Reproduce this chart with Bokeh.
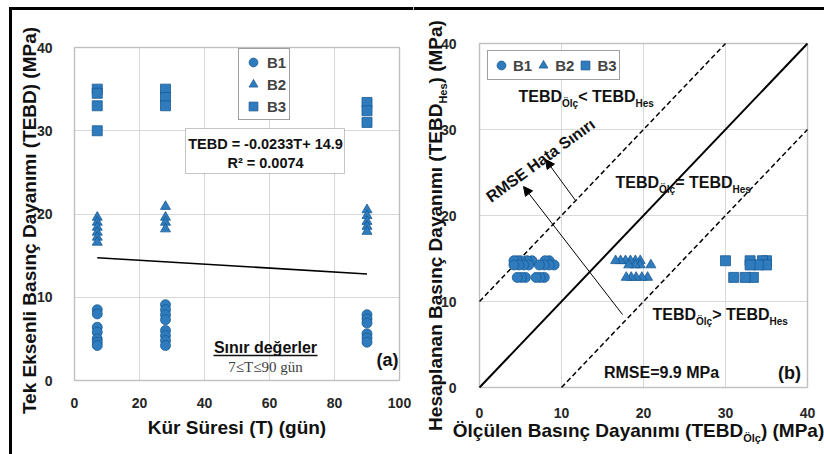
import math
from bokeh.plotting import figure
from bokeh.models import (Range1d, Label, Arrow, NormalHead, BoxAnnotation,
                          Legend, LegendItem, FixedTicker, ColumnDataSource)
from bokeh.layouts import row
from bokeh.embed import file_html
from bokeh.resources import INLINE

# ---------------- data ----------------
cure_days = [7, 28, 90]
# panel (a): measured UCS (MPa) per curing time
b1_t7 = [8.5, 8.0, 6.4, 5.8, 5.0, 4.6, 4.2]
b1_t28 = [9.1, 8.5, 7.9, 7.3, 6.0, 5.4, 4.8, 4.2]
b1_t90 = [7.9, 7.4, 6.9, 5.6, 5.1, 4.6]
b2_t7 = [19.6, 19.0, 18.4, 17.8, 17.2, 16.6]
b2_t28 = [20.9, 19.6, 19.0, 18.2]
b2_t90 = [20.5, 19.8, 19.1, 18.5, 17.9]
b3_t7 = [35.0, 34.5, 33.0, 30.0]
b3_t28 = [35.0, 34.0, 33.0]
b3_t90 = [33.4, 32.4, 31.0]
# trend line of panel (a)
trend_t = [7, 90]
trend_v = [14.74, 12.80]
# panel (b): calculated UCS for each curing time
calc_vals = [14.74, 14.25, 12.80]
# panel (b) reference lines
ref_x = [0, 40]
ref_y = [0, 40]
upper_x = [0, 30]
upper_y = [10, 40]
lower_x = [10, 40]
lower_y = [0, 30]

x_ticks_a = [0, 20, 40, 60, 80, 100]
y_ticks = [0, 10, 20, 30, 40]
x_ticks_b = [0, 10, 20, 30, 40]

BLUE = "#2E7BBE"
DARK = "#1B5A93"
FONT = "Liberation Sans"
H = 454

# ---------------- geometry (pixels of the page) ----------------
P1_W, P1_L, P1_R, P1_T, P1_B = 413, 74, 399, 47, 380
P2_W, P2_OFF, P2_L, P2_R, P2_T, P2_B = 411, 413, 479, 807, 43, 387
kx1 = (P1_R - P1_L) / 100.0
ky1 = (P1_B - P1_T) / 40.0
kx2 = (P2_R - P2_L) / 40.0
ky2 = (P2_B - P2_T) / 40.0


def X1(px): return (px - P1_L) / kx1
def Y1(py): return (P1_B - py) / ky1
def X2(px): return (px - P2_L) / kx2
def Y2(py): return (P2_B - py) / ky2


# approximate Arial Bold advance widths (per 1000 em)
W = {' ': 278, '(': 333, ')': 333, '<': 584, '>': 584, '=': 584, '.': 278, '-': 333, '+': 584,
     'A': 722, 'B': 722, 'C': 722, 'D': 722, 'E': 667, 'H': 722, 'M': 833, 'P': 667, 'R': 722,
     'S': 667, 'T': 611, 'Ö': 778, 'O': 778,
     'a': 556, 'b': 611, 'c': 556, 'ç': 556, 'd': 611, 'e': 556, 'g': 611, 'i': 278, 'ı': 278,
     'l': 278, 'm': 889, 'n': 611, 'o': 611, 'p': 611, 'r': 389, 's': 556, 't': 333, 'u': 611,
     'ü': 611, 'y': 556, 'k': 556}


def tw(s, size):
    return sum(W.get(c, 556) for c in s) * size / 1000.0


def rich(p, x, y, parts, align="left", vertical=False, color="#111111"):
    """Text with subscripts; (x, y) is the vertical middle of the main text."""
    total = sum(tw(t, s) for t, s, d in parts)
    pos = 0 if align == "left" else -total / 2.0
    for t, s, d in parts:
        if vertical:
            lab = Label(x=x, y=y, text=t, angle=math.pi / 2, x_offset=-d, y_offset=pos)
        else:
            lab = Label(x=x, y=y, text=t, x_offset=pos, y_offset=d)
        lab.text_font = FONT
        lab.text_font_style = "bold"
        lab.text_font_size = f"{s}px"
        lab.text_color = color
        lab.text_align = "left"
        lab.text_baseline = "middle"
        p.add_layout(lab)
        pos += tw(t, s)


def txt(p, x, y, text, size, style="bold", font=FONT, align="center", color="#111111", angle=0.0):
    p.add_layout(Label(x=x, y=y, text=text, text_font=font, text_font_style=style,
                       text_font_size=f"{size}px", text_align=align, text_baseline="middle",
                       text_color=color, angle=angle, angle_units="deg"))


def make_fig(width, xr, yr):
    p = figure(width=width, height=H, x_range=Range1d(*xr), y_range=Range1d(*yr),
               output_backend="svg", toolbar_location=None,
               min_border=0, min_border_left=0, min_border_right=0,
               min_border_top=0, min_border_bottom=0)
    p.outline_line_color = None
    p.background_fill_color = "white"
    p.border_fill_color = "white"
    p.xaxis.fixed_location = 0
    p.yaxis.fixed_location = 0
    for ax in p.axis:
        ax.major_tick_line_color = None
        ax.minor_tick_line_color = None
        ax.axis_line_color = None
        ax.major_label_text_font = FONT
        ax.major_label_text_font_style = "bold"
        ax.major_label_text_font_size = "14px"
        ax.major_label_text_color = "#262626"
        ax.axis_label_text_font = FONT
        ax.axis_label_text_font_style = "bold"
        ax.axis_label_text_font_size = "19px"
        ax.axis_label_text_color = "#111111"
    p.xgrid.grid_line_color = "#d9d9d9"
    p.ygrid.grid_line_color = "#d9d9d9"
    return p


def mask_and_frame(p, xmax, ymax):
    xs, xe = p.x_range.start, p.x_range.end
    ys, ye = p.y_range.start, p.y_range.end
    m = dict(fill_color="white", fill_alpha=1, line_color=None, level="underlay")
    p.add_layout(BoxAnnotation(left=xs, right=0, bottom=ys, top=ye, **m))
    p.add_layout(BoxAnnotation(left=xmax, right=xe, bottom=ys, top=ye, **m))
    p.add_layout(BoxAnnotation(left=xs, right=xe, bottom=ys, top=0, **m))
    p.add_layout(BoxAnnotation(left=xs, right=xe, bottom=ymax, top=ye, **m))
    p.add_layout(BoxAnnotation(left=0, right=xmax, bottom=0, top=ymax, fill_alpha=0,
                               line_color="#595959", line_width=1.5))


def group_a(groups):
    xs, ys = [], []
    for t, vals in zip(cure_days, groups):
        xs += [t] * len(vals)
        ys += vals
    return ColumnDataSource(dict(x=xs, y=ys))


def group_b(groups):
    xs, ys = [], []
    for c, vals in zip(calc_vals, groups):
        xs += vals
        ys += [c] * len(vals)
    return ColumnDataSource(dict(x=xs, y=ys))


b1 = [b1_t7, b1_t28, b1_t90]
b2 = [b2_t7, b2_t28, b2_t90]
b3 = [b3_t7, b3_t28, b3_t90]
mk = dict(size=10, fill_color=BLUE, line_color=DARK, line_width=0.8)
black = dict(fill_color="black", fill_alpha=1, line_color=None)

# ---------------- panel (a) ----------------
p1 = make_fig(P1_W, (X1(0), X1(P1_W)), (Y1(H), Y1(0)))
p1.xaxis.ticker = FixedTicker(ticks=x_ticks_a)
p1.yaxis.ticker = FixedTicker(ticks=y_ticks)
p1.xaxis.bounds = (0, 100)
p1.yaxis.bounds = (0, 40)
p1.xaxis.axis_label = "Kür Süresi (T) (gün)"
p1.xaxis.major_label_standoff = 11
p1.yaxis.major_label_standoff = 16
p1.xaxis.axis_label_standoff = 6
mask_and_frame(p1, 100, 40)

r1 = p1.scatter("x", "y", source=group_a(b1), marker="circle", **mk)
r2 = p1.scatter("x", "y", source=group_a(b2), marker="triangle", **mk)
r3 = p1.scatter("x", "y", source=group_a(b3), marker="square", **mk)
p1.line(trend_t, trend_v, line_color="black", line_width=1.6)

leg1 = Legend(items=[LegendItem(label="B1", renderers=[r1]),
                     LegendItem(label="B2", renderers=[r2]),
                     LegendItem(label="B3", renderers=[r3])],
              location=(238, H - 120), glyph_width=24, glyph_height=22, label_height=22,
              spacing=0, padding=2, margin=0, label_standoff=2,
              label_text_font=FONT, label_text_font_style="bold", label_text_font_size="15px",
              border_line_color="#404040", border_line_width=1, background_fill_alpha=1)
p1.add_layout(leg1)

# y-axis title of panel (a)
txt(p1, X1(29), Y1(220), "Tek Eksenli Basınç Dayanımı (TEBD) (MPa)", 19, angle=90)

p1.add_layout(BoxAnnotation(left=X1(185), right=X1(344), bottom=Y1(173), top=Y1(128),
                            fill_color="white", fill_alpha=1, line_color="#404040", line_width=1))
txt(p1, X1(265), Y1(143), "TEBD = -0.0233T+ 14.9", 14.5)
txt(p1, X1(265), Y1(162), "R² = 0.0074", 14.5)
txt(p1, X1(265), Y1(347), "Sınır değerler", 16)
p1.line([X1(213), X1(317)], [Y1(355), Y1(355)], line_color="#111111", line_width=1.5)
txt(p1, X1(265), Y1(366), "7≤T≤90 gün", 15, style="normal", font="Liberation Serif", color="#404040")
txt(p1, X1(387), Y1(359), "(a)", 18)

# outer border (top + left)
p1.add_layout(BoxAnnotation(left=X1(8.5), right=X1(P1_W), top=Y1(6.5), bottom=Y1(9.5), **black))
p1.add_layout(BoxAnnotation(left=X1(8.5), right=X1(11.5), top=Y1(6.5), bottom=Y1(H), **black))

# ---------------- panel (b) ----------------
p2 = make_fig(P2_W, (X2(P2_OFF), X2(P2_OFF + P2_W)), (Y2(H), Y2(0)))
p2.xaxis.ticker = FixedTicker(ticks=x_ticks_b)
p2.yaxis.ticker = FixedTicker(ticks=y_ticks)
p2.xaxis.bounds = (0, 40)
p2.yaxis.bounds = (0, 40)
p2.xaxis.major_label_standoff = 14
p2.yaxis.major_label_standoff = 17
mask_and_frame(p2, 40, 40)

p2.line(ref_x, ref_y, line_color="black", line_width=2)
p2.line(upper_x, upper_y, line_color="black", line_width=1.5, line_dash="5 3")
p2.line(lower_x, lower_y, line_color="black", line_width=1.5, line_dash="5 3")

s1 = p2.scatter("x", "y", source=group_b(b1), marker="circle", **mk)
s2 = p2.scatter("x", "y", source=group_b(b2), marker="triangle", **mk)
s3 = p2.scatter("x", "y", source=group_b(b3), marker="square", **mk)

leg2 = Legend(items=[LegendItem(label="B1", renderers=[s1]),
                     LegendItem(label="B2", renderers=[s2]),
                     LegendItem(label="B3", renderers=[s3])],
              location=(487 - P2_OFF, H - 80), orientation="horizontal",
              glyph_width=22, glyph_height=24, label_height=24, label_width=10,
              spacing=0, padding=2, margin=0, label_standoff=1,
              label_text_font=FONT, label_text_font_style="bold", label_text_font_size="15px",
              border_line_color="#404040", border_line_width=1, background_fill_alpha=1)
p2.add_layout(leg2)

MAIN, SUB, SH = 16, 10, -6.5
rich(p2, X2(518), Y2(96), [("TEBD", MAIN, 0), ("Ölç", SUB, SH), ("< TEBD", MAIN, 0), ("Hes", SUB, SH)])
rich(p2, X2(615), Y2(182), [("TEBD", MAIN, 0), ("Ölç", SUB, SH), ("= TEBD", MAIN, 0), ("Hes", SUB, SH)])
rich(p2, X2(652), Y2(314), [("TEBD", MAIN, 0), ("Ölç", SUB, SH), ("> TEBD", MAIN, 0), ("Hes", SUB, SH)])
txt(p2, X2(540), Y2(160), "RMSE Hata Sınırı", 16, angle=36)
txt(p2, X2(661), Y2(372), "RMSE=9.9 MPa", 16)
txt(p2, X2(789), Y2(372), "(b)", 18)

head = dict(size=9, fill_color="black", line_color="black")
p2.add_layout(Arrow(end=NormalHead(**head), x_start=X2(622), y_start=Y2(314),
                    x_end=X2(523), y_end=Y2(186), line_color="black", line_width=1))
p2.add_layout(Arrow(end=NormalHead(**head), x_start=X2(575), y_start=Y2(200),
                    x_end=X2(545), y_end=Y2(159), line_color="black", line_width=1))

# axis titles with subscripts
rich(p2, X2(638), Y2(430), [("Ölçülen Basınç Dayanımı (TEBD", 19, 0), ("Ölç", 11, -7.5), (") (MPa)", 19, 0)],
     align="center")
rich(p2, X2(435), Y2(225), [("Hesaplanan Basınç Dayanımı (TEBD", 19, 0), ("Hes", 11, -7.5), (") (MPa)", 19, 0)],
     align="center", vertical=True)

p2.add_layout(BoxAnnotation(left=X2(P2_OFF), right=X2(P2_OFF + P2_W), top=Y2(6.5), bottom=Y2(9.5), **black))

layout = row(p1, p2)
open("out.html", "w").write(file_html(layout, INLINE))
